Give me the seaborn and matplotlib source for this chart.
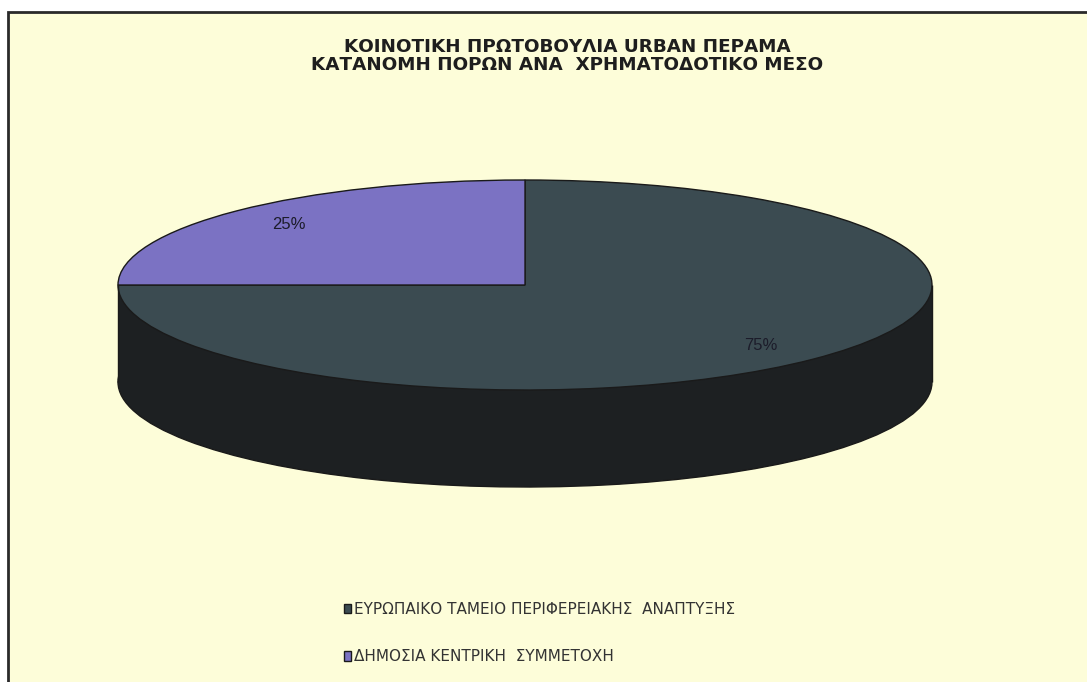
#!/usr/bin/env python3
"""3D-style pie chart: URBAN Perama resource allocation by funding source."""

import matplotlib.pyplot as plt
import seaborn as sns
from matplotlib.patches import Rectangle

title_lines = [
    "ΚΟΙΝΟΤΙΚΗ ΠΡΩΤΟΒΟΥΛΙΑ URBAN ΠΕΡΑΜΑ",
    "ΚΑΤΑΝΟΜΗ ΠΟΡΩΝ ΑΝΑ  ΧΡΗΜΑΤΟΔΟΤΙΚΟ ΜΕΣΟ",
]
sources = [
    "ΕΥΡΩΠΑΙΚΟ ΤΑΜΕΙΟ ΠΕΡΙΦΕΡΕΙΑΚΗΣ  ΑΝΑΠΤΥΞΗΣ",
    "ΔΗΜΟΣΙΑ ΚΕΝΤΡΙΚΗ  ΣΥΜΜΕΤΟΧΗ",
]
shares = [75, 25]

top_colors = ["#3b4b51", "#7b72c3"]
side_color = "#1d2022"
edge_color = "#1a1a1a"
bg_color = "#fdfdd9"

sns.set_theme(style="white")
plt.rcParams["font.family"] = ["DejaVu Sans"]

W, H = 1087, 682
fig = plt.figure(figsize=(W / 100, H / 100), dpi=100)
fig.patch.set_facecolor("white")

# chart area frame (dark rule on the left and top edges)
fig.patches.append(Rectangle((8 / W, -0.02), 1.2, (H - 12) / H + 0.02,
                             transform=fig.transFigure, facecolor=bg_color,
                             edgecolor="#2a2a2a", linewidth=2, zorder=-5))

ax = fig.add_axes([0, 0, 1, 1])
ax.set_facecolor("none")
ax.patch.set_alpha(0)

# pixel geometry of the ellipse: centre (525, 285), half axes 407 x 105
cx, cy, rx, ry = 525, 285, 407, 105
depth = 97 / ry

# side of the cylinder: bottom ellipse plus the band joining it to the top
ax.pie(shares, colors=[side_color, side_color], startangle=90, counterclock=False,
       center=(0, -depth), wedgeprops=dict(edgecolor=edge_color, linewidth=1))
ax.fill_between([-1, 1], -depth - 0.01, 0, color=side_color, linewidth=0)
ax.vlines([-1, 1], -depth, 0, color=edge_color, linewidth=1)

wedges, _, pct_texts = ax.pie(
    shares, colors=top_colors, startangle=90, counterclock=False,
    autopct="%1.0f%%", pctdistance=0.82,
    wedgeprops=dict(edgecolor=edge_color, linewidth=1),
    textprops=dict(color="#1c1c2a", fontsize=12, family="Liberation Sans"),
)

ax.set_aspect("auto")
ax.set_xlim(-cx / rx, (W - cx) / rx)
ax.set_ylim(-(H - cy) / ry, cy / ry)
ax.axis("off")

for line, y in zip(title_lines, [47.5, 64.5]):
    fig.text(567 / W, 1 - y / H, line, ha="center", va="center",
             fontsize=13.2, fontweight="bold", color="#1e1e1e")

leg = ax.legend(wedges, sources, loc="upper left",
                bbox_to_anchor=(330 / W, 1 - 588 / H), bbox_transform=fig.transFigure,
                frameon=False, fontsize=11, labelspacing=2.13,
                handlelength=0.5, handleheight=0.6, handletextpad=0.2)
for t in leg.get_texts():
    t.set_color("#333333")

fig.savefig("out.png", dpi=100, facecolor=fig.get_facecolor())
